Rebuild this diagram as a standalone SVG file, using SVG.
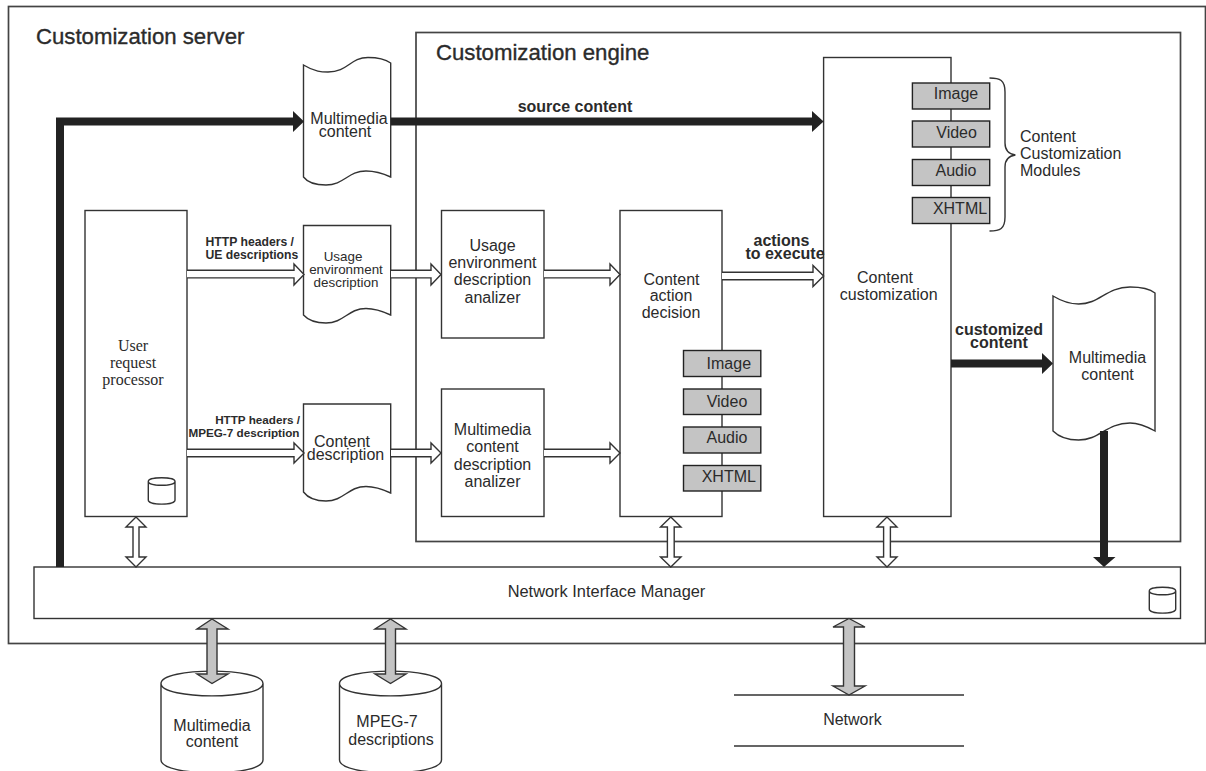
<svg xmlns="http://www.w3.org/2000/svg" width="1206" height="771" viewBox="0 0 1206 771">
<style>
text{font-family:"Liberation Sans",Arial,sans-serif;font-size:16px;fill:#2b2b2b;text-anchor:middle}
.s{fill:#fff;stroke:#333;stroke-width:1.4}
.n{fill:none;stroke:#333;stroke-width:1.4}
.c{fill:none;stroke:#444;stroke-width:1.7}
.g{fill:#c4c4c4;stroke:#222;stroke-width:1.4}
.ga{fill:#c4c4c4;stroke:#333;stroke-width:1.4}
.h{fill:#fff;stroke:#333;stroke-width:1.4}
.k{fill:#222;stroke:none}
.title{font-size:22.2px;text-anchor:start;stroke:#2b2b2b;stroke-width:.35}
.b{font-weight:bold}
.b12{font-weight:bold;font-size:12.2px}
.b11{font-weight:bold;font-size:11.7px}
.st{text-anchor:start}
.en{text-anchor:end}
.sm{font-size:13.4px}
.ser{font-family:"Liberation Serif","Times New Roman",serif}
</style>
<g id="customization-server">
<rect class="c" x="8.500" y="6.500" width="1197" height="637"/>
<text class="title" x="36" y="44">Customization server</text>
</g>
<g id="customization-engine">
<rect class="c" x="416" y="32.500" width="764.500" height="509"/>
<text class="title" x="436" y="60">Customization engine</text>
</g>
<g id="user-request-processor">
<rect class="s" x="85" y="210.500" width="102" height="306"/>
<text class="ser" x="133" y="351">User</text>
<text class="ser" x="133" y="368">request</text>
<text class="ser" x="133" y="385">processor</text>
<path class="n" d="M148.300,481.500V500C148.300,505.500 175,505.500 175,500V481.500M148.300,481.500C148.300,476.500 175,476.500 175,481.500C175,486.500 148.300,486.500 148.300,481.500Z"/>
</g>
<g id="network-interface-manager">
<rect class="s" x="34" y="567" width="1146.500" height="51.500"/>
<text style="font-size:16.400px" x="606.500" y="597">Network Interface Manager</text>
<path class="n" d="M1149.300,591V609C1149.300,614.500 1175.700,614.500 1175.700,609V591M1149.300,591C1149.300,586 1175.700,586 1175.700,591C1175.700,596 1149.300,596 1149.300,591Z"/>
</g>
<g id="multimedia-content-source">
<path class="s" d="M303.500,65C315,72 322,72 328,72C348,72 350,57.500 368,57.500C378,57.500 385,59 390.700,63V177C380,172 372,171 366,171C348,171 344,185 326,185C315,185 308,183 303.500,177Z"/>
<text x="349" y="124">Multimedia</text>
<text x="345" y="137">content</text>
</g>
<g id="usage-environment-description">
<path class="s" d="M303.500,225.500H390.700V315C380,310 372,308.500 366,308.500C348,308.500 344,323 326,323C315,323 308,320 303.500,315Z"/>
<text class="sm" x="343" y="261">Usage</text>
<text class="sm" x="346" y="274">environment</text>
<text class="sm" x="346" y="287">description</text>
</g>
<g id="content-description">
<path class="s" d="M303.500,404H390.700V493C380,488 372,486.500 366,486.500C348,486.500 344,501 326,501C315,501 308,498 303.500,492Z"/>
<text x="342" y="447">Content</text>
<text x="345.500" y="460">description</text>
</g>
<g id="usage-analyzer">
<rect class="s" x="441.500" y="210.500" width="102.500" height="127.500"/>
<text x="492.500" y="251">Usage</text>
<text x="492.500" y="268">environment</text>
<text x="492.500" y="285">description</text>
<text x="492.500" y="303">analizer</text>
</g>
<g id="multimedia-analyzer">
<rect class="s" x="441.500" y="389" width="102.500" height="127.500"/>
<text x="492.500" y="435">Multimedia</text>
<text x="492.500" y="452">content</text>
<text x="492.500" y="470">description</text>
<text x="492.500" y="487">analizer</text>
</g>
<g id="content-action-decision">
<rect class="s" x="620" y="210.500" width="102" height="306"/>
<text x="671.500" y="284.500">Content</text>
<text x="671" y="301">action</text>
<text x="671" y="318">decision</text>
<rect class="g" x="683.500" y="350.500" width="77.300" height="26"/><text x="728.800" y="369">Image</text>
<rect class="g" x="683.500" y="389" width="77.300" height="25.500"/><text x="727" y="407">Video</text>
<rect class="g" x="683.500" y="427" width="77.300" height="26"/><text x="727" y="443">Audio</text>
<rect class="g" x="683.500" y="465.500" width="77.300" height="25.500"/><text x="728.800" y="482">XHTML</text>
</g>
<g id="content-customization">
<rect class="s" x="823.600" y="57.500" width="127.400" height="459"/>
<text x="885" y="283">Content</text>
<text x="888.700" y="300">customization</text>
<rect class="g" x="912.400" y="83" width="77.300" height="26"/><text x="956" y="99">Image</text>
<rect class="g" x="912.400" y="121" width="77.300" height="26"/><text x="956.600" y="138">Video</text>
<rect class="g" x="912.400" y="159.500" width="77.300" height="26"/><text x="956" y="176">Audio</text>
<rect class="g" x="912.400" y="197.500" width="77.300" height="26"/><text x="960" y="214">XHTML</text>
</g>
<g id="content-customization-modules">
<path class="n" d="M989.500,78C1000,78 1005,80 1005,92V143C1005,150 1008,154 1015.400,155C1008,156 1005,160 1005,167V217C1005,229 1000,231 989.500,231"/>
<text class="st" x="1020" y="142">Content</text>
<text class="st" x="1020" y="159">Customization</text>
<text class="st" x="1020" y="176">Modules</text>
</g>
<g id="multimedia-content-output">
<path class="s" d="M1053,296C1063,302 1070,304 1078.600,304C1100,304 1106,287 1130,287C1143,287 1150,289 1155,293V431C1146,426 1138,423 1130,423C1106,423 1100,440 1078.600,440C1066,440 1058,436 1053,431Z"/>
<text x="1107.500" y="363">Multimedia</text>
<text x="1107.500" y="380">content</text>
</g>
<g id="multimedia-content-store">
<path class="s" d="M161,683.500V760C161,777 263,777 263,760V683.500C263,667 161,667 161,683.500C161,700 263,700 263,683.500"/>
<text x="212" y="731">Multimedia</text>
<text x="212" y="747">content</text>
</g>
<g id="mpeg7-store">
<path class="s" d="M339.500,683.500V760C339.500,777 441.500,777 441.500,760V683.500C441.500,667 339.500,667 339.500,683.500C339.500,700 441.500,700 441.500,683.500"/>
<text x="387" y="727">MPEG-7</text>
<text x="391" y="745">descriptions</text>
</g>
<g id="network">
<path class="n" d="M734,695H964M734,746H964"/>
<text x="852.500" y="725">Network</text>
</g>
<g id="connectors">
<path class="k" d="M56,567V117.500H293V111L304,121.500L293,132V125.500H64V567Z"/>
<path class="k" d="M391,117.500H812V111L823.600,121.500L812,132V125.500H391Z"/>
<path class="k" d="M951,359.500H1042V353L1053,363.500L1042,374V367.500H951Z"/>
<path class="k" d="M1100,431H1108V557H1115.500L1104,567L1093,557H1100Z"/>
<path class="h" d="M187,270.300H294V264L304,274.500L294,285V277.900H187"/>
<path class="h" d="M391,270.300H431V264L441,274.500L431,285V277.900H391"/>
<path class="h" d="M544,270.300H610V264L620,274.500L610,285V277.900H544"/>
<path class="h" d="M722,272.300H813V265.500L823.600,276L813,286.500V279.700H722"/>
<path class="h" d="M187,449.300H294V443L304,453L294,463V456.700H187"/>
<path class="h" d="M391,449.300H431V443L441,453L431,463V456.700H391"/>
<path class="h" d="M544,449.300H610V443L620,453L610,463V456.700H544"/>
<path class="h" d="M136,517L146,527H139V557H146L136,567L126,557H133V527H126Z"/>
<path class="h" d="M670.800,517L681,527H674.200V557H681L670.800,567L660.500,557H667.400V527H660.500Z"/>
<path class="h" d="M887,517L897,527H890.400V557H897L887,567L877,557H883.600V527H877Z"/>
<path class="ga" d="M212,619L228,629H217V674H228L212,683.500L197,674H207V629H197Z"/>
<path class="ga" d="M390.500,619L406,629H395.500V674H406L390.500,683.500L375,674H385.500V629H375Z"/>
<path class="ga" d="M849,618.500L865,627H854.500V686H865L849,695L833,686H843.500V627H833Z"/>
</g>
<g id="connector-labels">
<text class="b12 st" x="205.500" y="245.500">HTTP headers /</text>
<text class="b12 st" x="205.500" y="259">UE descriptions</text>
<text class="b11 en" x="300" y="424">HTTP headers /</text>
<text class="b11 en" x="299.500" y="437">MPEG-7 description</text>
<text class="b" x="575" y="112">source content</text>
<text class="b" x="781.500" y="246">actions</text>
<text class="b" x="785" y="259">to execute</text>
<text class="b" x="999" y="335">customized</text>
<text class="b" x="999" y="347.500">content</text>
</g>
</svg>
